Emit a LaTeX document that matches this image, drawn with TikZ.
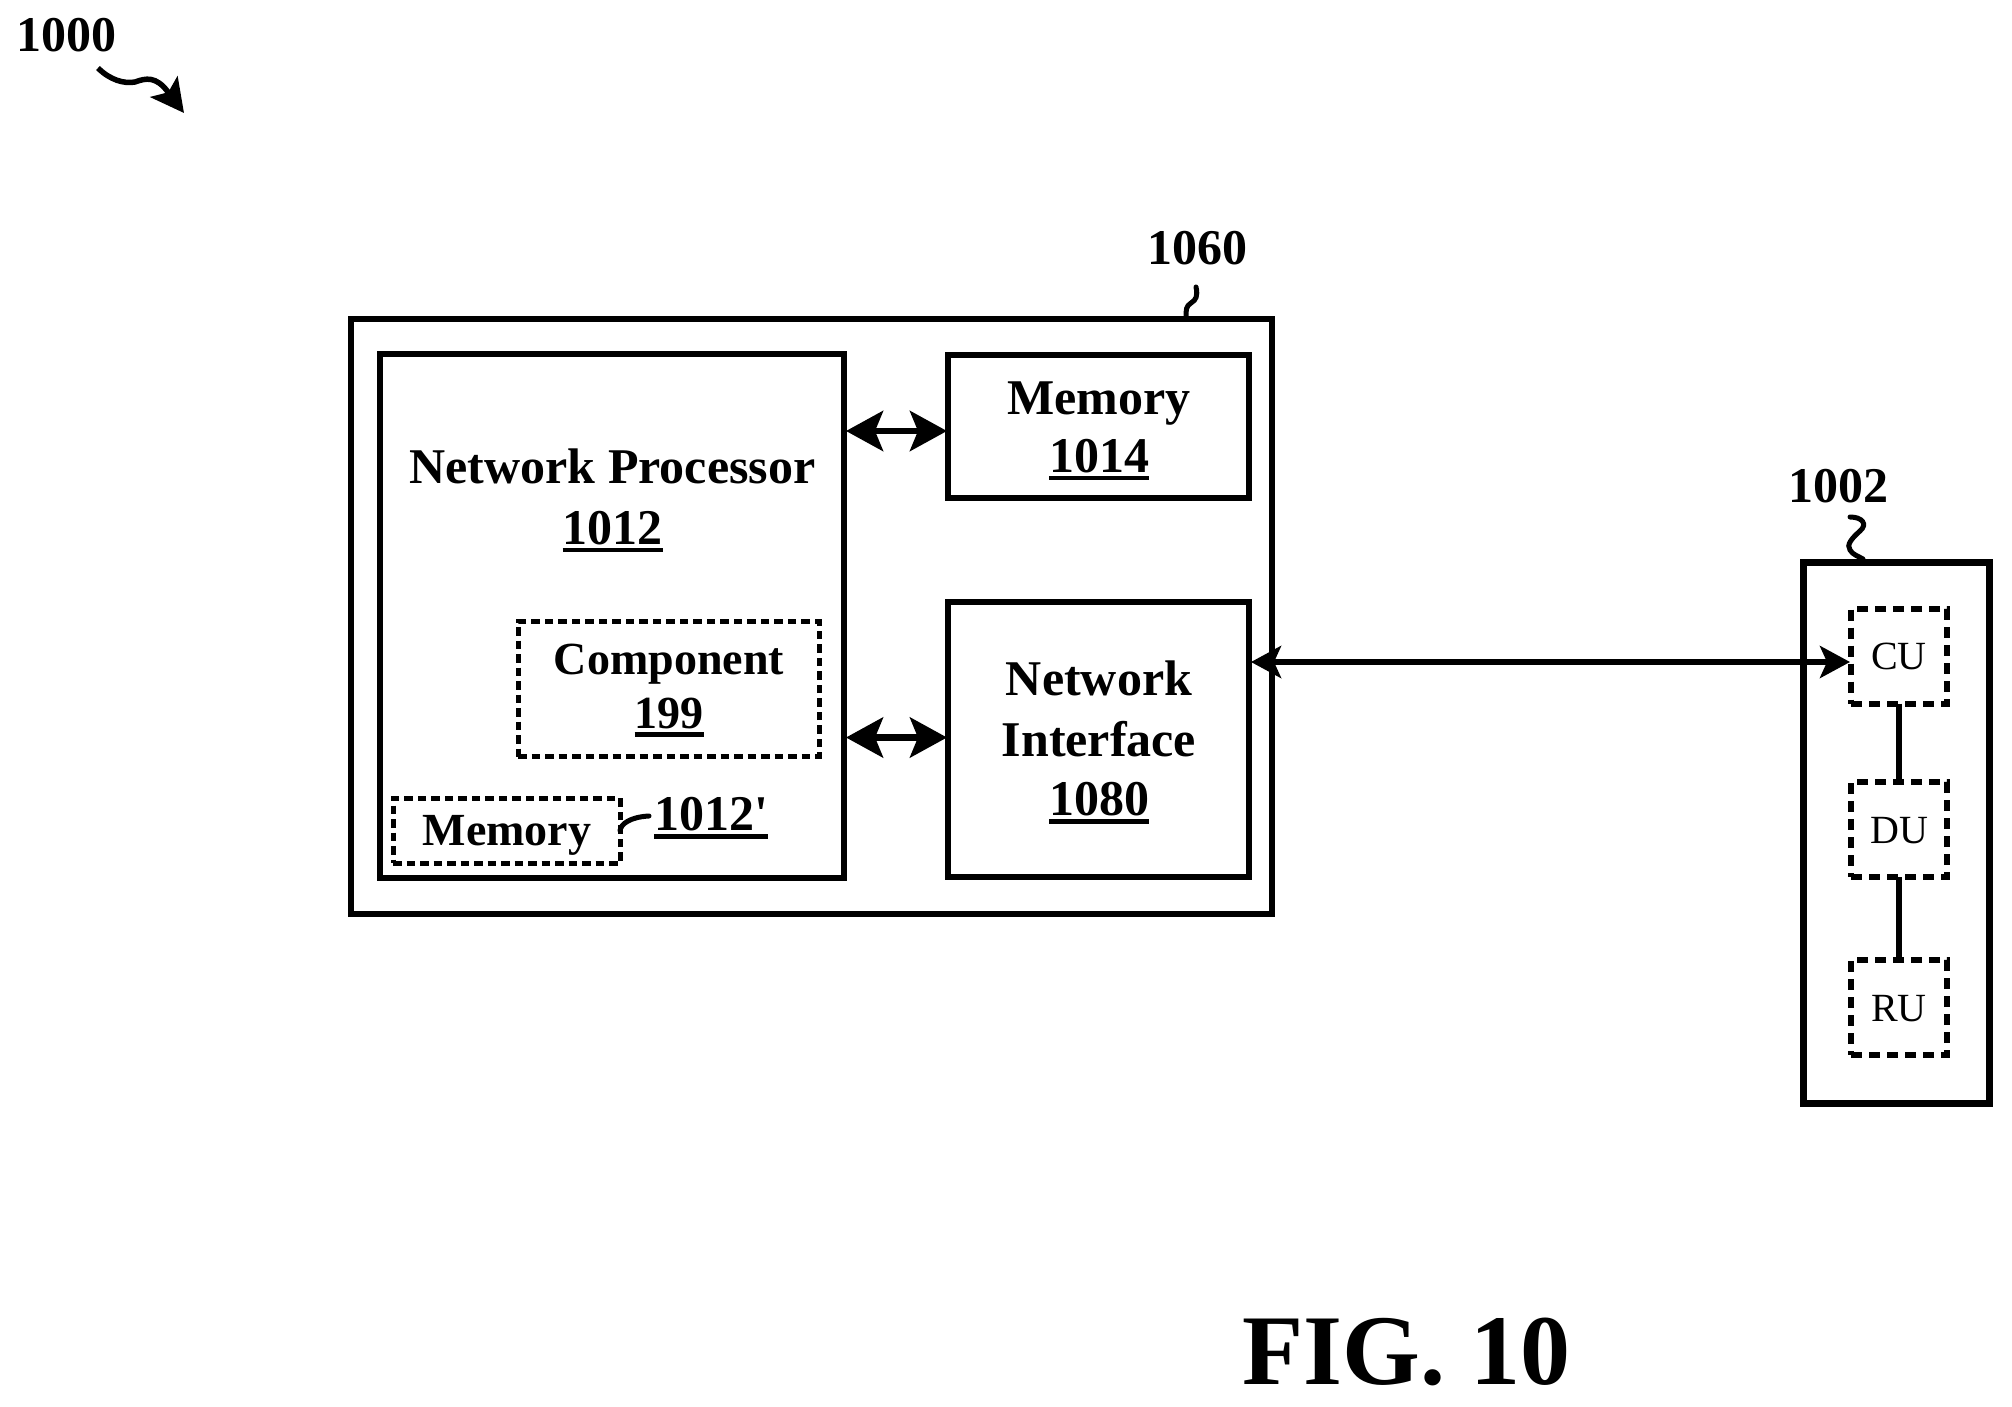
\documentclass[tikz,border=0pt]{standalone}
\usepackage{fontspec}
\setmainfont{Liberation Serif}
\newfontfamily\plainserif{Liberation Serif}
\usetikzlibrary{arrows.meta,calc}
\newcommand{\ulin}[1]{\leavevmode\vtop{\hbox{#1}\kern3.5pt\hrule height 4.5pt}}
\newcommand{\fsize}[1]{\fontsize{#1}{#1}\selectfont}
\tikzset{
  solidbox/.style={draw=black,line width=6pt,rectangle,inner sep=0pt,outer sep=0pt,line join=miter},
  dashbox/.style={draw=black,line width=5pt,rectangle,inner sep=0pt,outer sep=0pt,dash pattern=on 8.5pt off 5pt},
  unitbox/.style={draw=black,line width=6pt,rectangle,inner sep=0pt,outer sep=0pt,dash pattern=on 11pt off 7pt,minimum width=96pt,minimum height=95pt},
  boldtext/.style={inner sep=0pt,outer sep=0pt,anchor=base,font=\bfseries\fsize{50}},
  smalltext/.style={boldtext,font=\bfseries\fsize{46}},
  reftext/.style={boldtext,font=\bfseries\fsize{50}},
  unittext/.style={inner sep=0pt,outer sep=0pt,anchor=base,font=\fsize{40}},
  figtext/.style={inner sep=0pt,outer sep=0pt,anchor=base,font=\bfseries\fsize{100}},
  twoway/.style={line width=6.5pt,{Stealth[length=37pt,width=40pt,inset=8pt]}-{Stealth[length=37pt,width=40pt,inset=8pt]},shorten <=2pt,shorten >=1pt},
  longway/.style={line width=5.5pt,{Stealth[length=30pt,width=32pt,inset=7pt]}-{Stealth[length=30pt,width=32pt,inset=7pt]},shorten <=2pt,shorten >=1pt},
  unitlink/.style={line width=6.5pt},
  lead/.style={line width=5pt,line cap=round},
  bigarrow/.style={line width=5.5pt,-{Stealth[length=33pt,width=34pt,inset=7pt]}},
}
\begin{document}
\begin{tikzpicture}[x=1pt,y=-1pt]
\useasboundingbox (0,0) rectangle (2012,1407);
% boxes
\node[solidbox,minimum width=921pt,minimum height=595pt] (outer) at (811,616.5) {};
\node[solidbox,minimum width=464pt,minimum height=524pt] (proc) at (612,616) {};
\node[solidbox,minimum width=301pt,minimum height=143pt] (mem) at (1098.5,426.5) {};
\node[solidbox,minimum width=301pt,minimum height=275pt] (ni) at (1098.5,739.5) {};
\node[dashbox,minimum width=301pt,minimum height=135pt] (comp) at (668.5,689) {};
\node[dashbox,minimum width=227pt,minimum height=65pt] (memsm) at (506.5,830.5) {};
\node[solidbox,line width=7pt,minimum width=186pt,minimum height=541pt] (ue) at (1896,832.5) {};
\node[unitbox] (cu) at (1899,656) {};
\node[unitbox] (du) at (1899,829.5) {};
\node[unitbox] (ru) at (1899,1007.5) {};
% texts
\node[reftext] (t1000) at (66.5,52) {1000};
\node[reftext] (t1060) at (1197,264) {1060};
\node[reftext] (t1002) at (1838,502) {1002};
\node[boldtext] (tproc) at (612.5,483) {Network Processor};
\node[boldtext] (tprocn) at (612.5,544) {\ulin{1012}};
\node[boldtext] (tmem) at (1099,414) {Memory};
\node[boldtext] (tmemn) at (1099,472) {\ulin{1014}};
\node[smalltext] (tcomp) at (669,674.5) {Component};
\node[smalltext] (tcompn) at (669,728.5) {\ulin{199}};
\node[smalltext] (tmemsm) at (507,845) {Memory};
\node[boldtext] (tref) at (711,830.5) {\ulin{1012{\plainserif\bfseries'}}};
\node[boldtext] (tni1) at (1099,695.5) {Network};
\node[boldtext] (tni2) at (1099,756.5) {Interface};
\node[boldtext] (tnin) at (1099,815.5) {\ulin{1080}};
\node[unittext] (tcu) at (1899,669) {CU};
\node[unittext] (tdu) at (1899,843) {DU};
\node[unittext] (tru) at (1899,1021) {RU};
\node[figtext] (tfig) at (1406.5,1384.5) {FIG. 10};
% connectors
\coordinate (memin) at ([yshift=-4.5pt]mem.west);
\coordinate (niin) at ([yshift=2pt]ni.west);
\draw[twoway] (proc.east |- memin) -- (memin);
\draw[twoway] (proc.east |- niin) -- (niin);
\coordinate (cuin) at ([yshift=-6pt]cu.west);
\draw[longway] (ni.east |- cuin) -- (cuin);
\draw[unitlink] (cu.south) -- (du.north);
\draw[unitlink] (du.south) -- (ru.north);
% leaders
\coordinate (a0) at (98,68);
\coordinate (a1) at (184,113);
\draw[bigarrow] (a0) .. controls (110,80) and (124,84) .. (135,82) .. controls (146,78) and (156,76) .. (168,92) -- (a1);
\coordinate (b0) at (1196,287);
\coordinate (b1) at (1186,317);
\draw[lead] (b0) .. controls (1198,296) and (1196,300) .. (1191,303) .. controls (1186,306) and (1186,310) .. (b1);
\coordinate (c0) at (1850,517);
\coordinate (c1) at (1863,559);
\draw[lead] (c0) .. controls (1862,517) and (1868,524) .. (1860,531) .. controls (1852,538) and (1846,545) .. (1850,550) .. controls (1853,555) and (1858,556) .. (c1);
\coordinate (d1) at (649,816);
\draw[lead] (memsm.east) .. controls (621,824) and (630,817) .. (d1);
\end{tikzpicture}
\end{document}
